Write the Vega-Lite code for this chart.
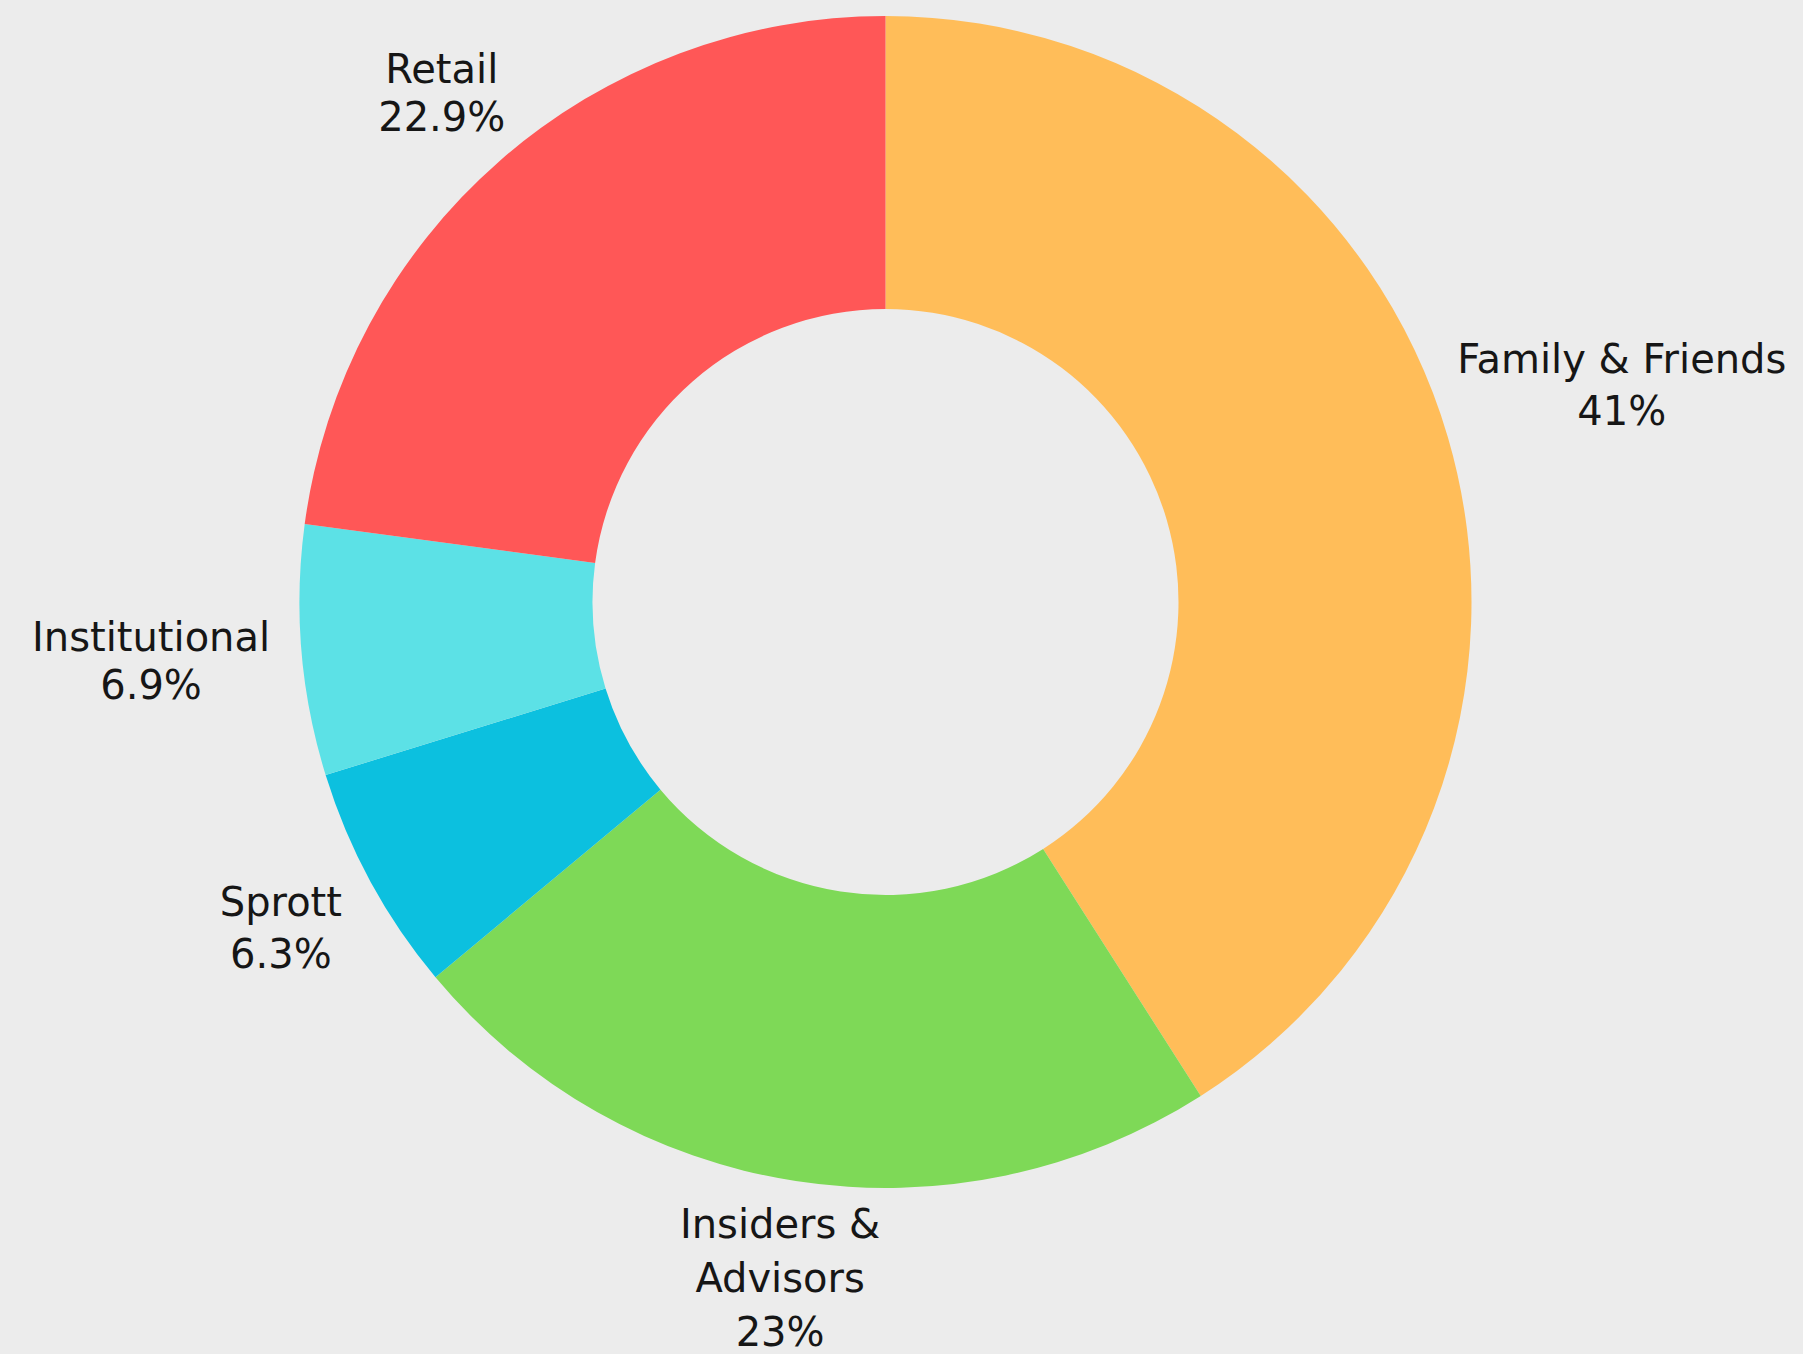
{
  "$schema": "https://vega.github.io/schema/vega-lite/v6.json",
  "width": 1771,
  "height": 1204,
  "autosize": {"type": "none"},
  "padding": {"left": 0, "top": 0, "right": 32, "bottom": 150},
  "background": "#ececec",
  "config": {"view": {"stroke": null}},
  "data": {
    "values": [
      {"idx": 1, "cat": "Family & Friends", "value": 41, "label": "Family & Friends|41%"},
      {"idx": 2, "cat": "Insiders & Advisors", "value": 23, "label": "Insiders &|Advisors|23%"},
      {"idx": 3, "cat": "Sprott", "value": 6.3, "label": "Sprott|6.3%"},
      {"idx": 4, "cat": "Institutional", "value": 6.9, "label": "Institutional|6.9%"},
      {"idx": 5, "cat": "Retail", "value": 22.9, "label": "Retail|22.9%"}
    ]
  },
  "layer": [
    {
      "mark": {"type": "arc", "outerRadius": 586, "innerRadius": 293},
      "encoding": {
        "theta": {"field": "value", "type": "quantitative", "stack": true, "scale": {"domain": [0, 100.1]}},
        "order": {"field": "idx", "type": "quantitative"},
        "color": {
          "field": "cat",
          "type": "nominal",
          "legend": null,
          "scale": {
            "domain": ["Family & Friends", "Insiders & Advisors", "Sprott", "Institutional", "Retail"],
            "range": ["#FFBD59", "#7ED957", "#0CC0DF", "#5CE1E6", "#FF5757"]
          }
        }
      }
    },
    {
      "transform": [
        {"stack": "value", "groupby": [], "sort": [{"field": "idx"}], "as": ["v0", "v1"]},
        {"calculate": "(datum.v0 + datum.v1) / 2", "as": "mid"},
        {"calculate": "split(datum.label, '|')", "as": "lines"},
        {"filter": "datum.cat == 'Family & Friends'"}
      ],
      "mark": {"type": "text", "radius": 767, "dy": -26, "font": "DejaVu Sans", "fontSize": 40, "lineHeight": 52, "color": "#161616", "baseline": "middle", "align": "center"},
      "encoding": {
        "theta": {"field": "mid", "type": "quantitative", "scale": {"domain": [0, 100.1]}},
        "text": {"field": "lines"}
      }
    },
    {
      "transform": [
        {"stack": "value", "groupby": [], "sort": [{"field": "idx"}], "as": ["v0", "v1"]},
        {"calculate": "(datum.v0 + datum.v1) / 2", "as": "mid"},
        {"calculate": "split(datum.label, '|')", "as": "lines"},
        {"filter": "datum.cat == 'Retail'"}
      ],
      "mark": {"type": "text", "radius": 674, "dy": -24, "font": "DejaVu Sans", "fontSize": 40, "lineHeight": 48, "color": "#161616", "baseline": "middle", "align": "center"},
      "encoding": {
        "theta": {"field": "mid", "type": "quantitative", "scale": {"domain": [0, 100.1]}},
        "text": {"field": "lines"}
      }
    },
    {
      "transform": [
        {"stack": "value", "groupby": [], "sort": [{"field": "idx"}], "as": ["v0", "v1"]},
        {"calculate": "(datum.v0 + datum.v1) / 2", "as": "mid"},
        {"calculate": "split(datum.label, '|')", "as": "lines"},
        {"filter": "datum.cat == 'Institutional'"}
      ],
      "mark": {"type": "text", "radius": 737, "dy": -24, "font": "DejaVu Sans", "fontSize": 40, "lineHeight": 48, "color": "#161616", "baseline": "middle", "align": "center"},
      "encoding": {
        "theta": {"field": "mid", "type": "quantitative", "scale": {"domain": [0, 100.1]}},
        "text": {"field": "lines"}
      }
    },
    {
      "transform": [
        {"stack": "value", "groupby": [], "sort": [{"field": "idx"}], "as": ["v0", "v1"]},
        {"calculate": "(datum.v0 + datum.v1) / 2", "as": "mid"},
        {"calculate": "split(datum.label, '|')", "as": "lines"},
        {"filter": "datum.cat == 'Sprott'"}
      ],
      "mark": {"type": "text", "radius": 688, "dy": -26, "font": "DejaVu Sans", "fontSize": 40, "lineHeight": 52, "color": "#161616", "baseline": "middle", "align": "center"},
      "encoding": {
        "theta": {"field": "mid", "type": "quantitative", "scale": {"domain": [0, 100.1]}},
        "text": {"field": "lines"}
      }
    },
    {
      "transform": [
        {"stack": "value", "groupby": [], "sort": [{"field": "idx"}], "as": ["v0", "v1"]},
        {"calculate": "(datum.v0 + datum.v1) / 2", "as": "mid"},
        {"calculate": "split(datum.label, '|')", "as": "lines"},
        {"filter": "datum.cat == 'Insiders & Advisors'"}
      ],
      "mark": {"type": "text", "radius": 688, "dy": -56, "font": "DejaVu Sans", "fontSize": 40, "lineHeight": 54, "color": "#161616", "baseline": "middle", "align": "center"},
      "encoding": {
        "theta": {"field": "mid", "type": "quantitative", "scale": {"domain": [0, 100.1]}},
        "text": {"field": "lines"}
      }
    }
  ]
}
